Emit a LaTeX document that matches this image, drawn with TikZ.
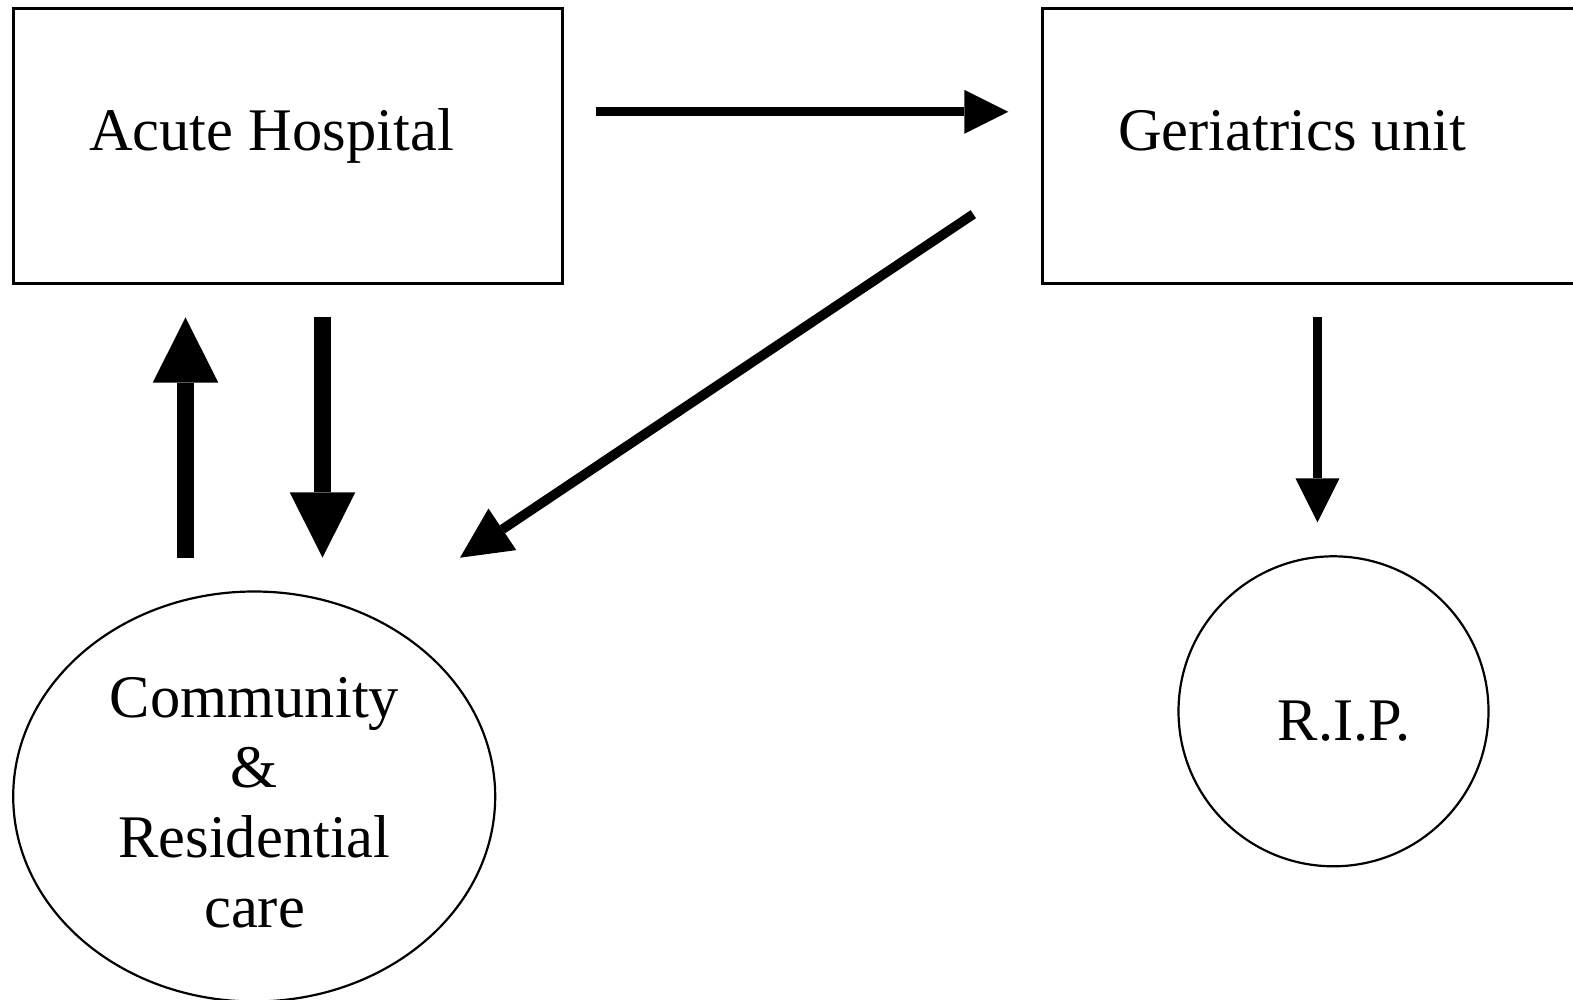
\documentclass[tikz,border=0pt]{standalone}
\usepackage{fontspec}
\setmainfont{Liberation Serif}
\usetikzlibrary{arrows.meta,shapes.geometric}
\begin{document}
\begin{tikzpicture}[x=1pt,y=-1pt,
  every node/.style={font=\fontsize{60.5}{70}\selectfont},
  boxnode/.style={draw,line width=2.5pt,rectangle,inner sep=0pt,outer sep=0pt},
  roundnode/.style={draw,line width=2.2pt,inner sep=0pt,outer sep=0pt},
  lbl/.style={anchor=base,inner sep=0pt},
  bigarrow/.style={line width=17pt,-{Triangle[length=65.4pt,width=65.5pt,line width=0pt]}},
  thinarrow/.style={line width=8.8pt,-{Triangle[length=44pt,width=44pt,line width=0pt]}},
  diagarrow/.style={line width=9.6pt,-{Triangle[length=51pt,width=50pt,line width=0pt]}}]
\useasboundingbox (0,0) rectangle (1573,1000);
% nodes
\node[boxnode,minimum width=549pt,minimum height=275pt] (acute) at (288.2,146.2) {};
\node[boxnode,minimum width=550.4pt,minimum height=275pt] (geri) at (1317.5,146.2) {};
\node[roundnode,ellipse,minimum width=482pt,minimum height=410pt] (comm) at (254.2,796.5) {};
\node[roundnode,circle,minimum size=310pt] (rip) at (1333.5,711.3) {};
% labels
\node[lbl] (acutelbl) at (271.5,150.5) {Acute Hospital};
\node[lbl] (gerilbl) at (1292,150.5) {Geriatrics unit};
\node[lbl] (riplbl) at (1344.2,740) {R.I.P.};
\node[align=center,inner sep=0pt] (commlbl) at (254.5,803) {Community\\\&\\Residential\\care};
% connectors
\draw[bigarrow] ([xshift=-68.7pt,yshift=33.8pt]comm.north) -- ([xshift=-102.7pt,yshift=-33.6pt]acute.south);
\draw[bigarrow] ([xshift=34.3pt,yshift=-33pt]acute.south) -- ([xshift=68.3pt,yshift=33.8pt]comm.north);
\draw[thinarrow] ([xshift=33.3pt,yshift=34.4pt]acute.east) -- ([xshift=-34pt,yshift=34.4pt]geri.west);
\draw[diagarrow] ([xshift=-69pt,yshift=-68pt]geri.west) -- ([xshift=205.8pt,yshift=33.8pt]comm.north);
\draw[thinarrow] ([yshift=-33pt]geri.south) -- ([xshift=-16pt,yshift=34pt]rip.north);
\end{tikzpicture}
\end{document}
